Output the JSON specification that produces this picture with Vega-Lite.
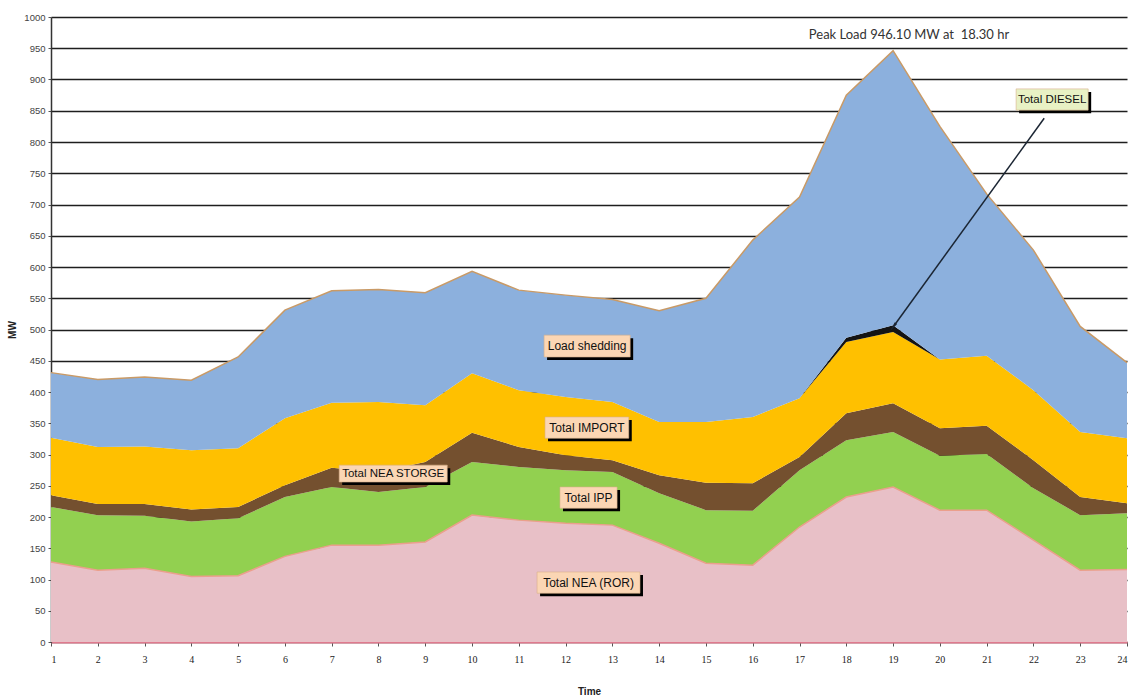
{
  "$schema": "https://vega.github.io/schema/vega-lite/v6.json",
  "width": 1076,
  "height": 625,
  "autosize": {"type": "none"},
  "padding": {"left": 51, "top": 17, "right": 3, "bottom": 55},
  "background": "#ffffff",
  "config": {
    "view": {"stroke": null},
    "axisY": {
      "tickCount": 21, "format": "d", "labelOverlap": false,
      "grid": true, "gridColor": "#1e1e1e", "gridWidth": 1.3,
      "domainColor": "#333333", "domainWidth": 1.5,
      "tickColor": "#555555", "tickSize": 3,
      "labelFont": "Liberation Sans", "labelFontSize": 9.5, "labelColor": "#444444", "labelPadding": 3,
      "titleFont": "Liberation Sans", "titleFontSize": 10, "titleFontWeight": "bold", "titleColor": "#222222", "titlePadding": 6
    },
    "axisX": {
      "grid": false, "zindex": 1, "labelOverlap": false,
      "domainColor": "#e07a8e", "domainWidth": 2,
      "tickColor": "#555555", "tickSize": 4,
      "labelFont": "Liberation Serif", "labelFontSize": 10, "labelColor": "#222222", "labelPadding": 8,
      "titleFont": "Liberation Sans", "titleFontSize": 10, "titleFontWeight": "bold", "titleColor": "#222222", "titlePadding": 22
    }
  },
  "datasets": {
    "gen": [
      {"hour":1,"source":"Total NEA (ROR)","mw":128},{"hour":1,"source":"Total IPP","mw":88},{"hour":1,"source":"Total NEA STORGE","mw":19},{"hour":1,"source":"Total IMPORT","mw":92},{"hour":1,"source":"Total DIESEL","mw":0},{"hour":1,"source":"Load shedding","mw":104},
      {"hour":2,"source":"Total NEA (ROR)","mw":115},{"hour":2,"source":"Total IPP","mw":88},{"hour":2,"source":"Total NEA STORGE","mw":18},{"hour":2,"source":"Total IMPORT","mw":91},{"hour":2,"source":"Total DIESEL","mw":0},{"hour":2,"source":"Load shedding","mw":108},
      {"hour":3,"source":"Total NEA (ROR)","mw":118},{"hour":3,"source":"Total IPP","mw":84},{"hour":3,"source":"Total NEA STORGE","mw":19},{"hour":3,"source":"Total IMPORT","mw":92},{"hour":3,"source":"Total DIESEL","mw":0},{"hour":3,"source":"Load shedding","mw":111},
      {"hour":4,"source":"Total NEA (ROR)","mw":105},{"hour":4,"source":"Total IPP","mw":88},{"hour":4,"source":"Total NEA STORGE","mw":19},{"hour":4,"source":"Total IMPORT","mw":95},{"hour":4,"source":"Total DIESEL","mw":0},{"hour":4,"source":"Load shedding","mw":112},
      {"hour":5,"source":"Total NEA (ROR)","mw":106},{"hour":5,"source":"Total IPP","mw":92},{"hour":5,"source":"Total NEA STORGE","mw":18},{"hour":5,"source":"Total IMPORT","mw":94},{"hour":5,"source":"Total DIESEL","mw":0},{"hour":5,"source":"Load shedding","mw":146},
      {"hour":6,"source":"Total NEA (ROR)","mw":137},{"hour":6,"source":"Total IPP","mw":95},{"hour":6,"source":"Total NEA STORGE","mw":19},{"hour":6,"source":"Total IMPORT","mw":107},{"hour":6,"source":"Total DIESEL","mw":0},{"hour":6,"source":"Load shedding","mw":173},
      {"hour":7,"source":"Total NEA (ROR)","mw":155},{"hour":7,"source":"Total IPP","mw":93},{"hour":7,"source":"Total NEA STORGE","mw":31},{"hour":7,"source":"Total IMPORT","mw":104},{"hour":7,"source":"Total DIESEL","mw":0},{"hour":7,"source":"Load shedding","mw":179},
      {"hour":8,"source":"Total NEA (ROR)","mw":155},{"hour":8,"source":"Total IPP","mw":85},{"hour":8,"source":"Total NEA STORGE","mw":32},{"hour":8,"source":"Total IMPORT","mw":112},{"hour":8,"source":"Total DIESEL","mw":0},{"hour":8,"source":"Load shedding","mw":180},
      {"hour":9,"source":"Total NEA (ROR)","mw":160},{"hour":9,"source":"Total IPP","mw":88},{"hour":9,"source":"Total NEA STORGE","mw":40},{"hour":9,"source":"Total IMPORT","mw":91},{"hour":9,"source":"Total DIESEL","mw":0},{"hour":9,"source":"Load shedding","mw":180},
      {"hour":10,"source":"Total NEA (ROR)","mw":203},{"hour":10,"source":"Total IPP","mw":85},{"hour":10,"source":"Total NEA STORGE","mw":47},{"hour":10,"source":"Total IMPORT","mw":95},{"hour":10,"source":"Total DIESEL","mw":0},{"hour":10,"source":"Load shedding","mw":163},
      {"hour":11,"source":"Total NEA (ROR)","mw":195},{"hour":11,"source":"Total IPP","mw":85},{"hour":11,"source":"Total NEA STORGE","mw":32},{"hour":11,"source":"Total IMPORT","mw":91},{"hour":11,"source":"Total DIESEL","mw":0},{"hour":11,"source":"Load shedding","mw":160},
      {"hour":12,"source":"Total NEA (ROR)","mw":190},{"hour":12,"source":"Total IPP","mw":85},{"hour":12,"source":"Total NEA STORGE","mw":24},{"hour":12,"source":"Total IMPORT","mw":93},{"hour":12,"source":"Total DIESEL","mw":0},{"hour":12,"source":"Load shedding","mw":163},
      {"hour":13,"source":"Total NEA (ROR)","mw":187},{"hour":13,"source":"Total IPP","mw":85},{"hour":13,"source":"Total NEA STORGE","mw":19},{"hour":13,"source":"Total IMPORT","mw":93},{"hour":13,"source":"Total DIESEL","mw":0},{"hour":13,"source":"Load shedding","mw":164},
      {"hour":14,"source":"Total NEA (ROR)","mw":158},{"hour":14,"source":"Total IPP","mw":80},{"hour":14,"source":"Total NEA STORGE","mw":29},{"hour":14,"source":"Total IMPORT","mw":85},{"hour":14,"source":"Total DIESEL","mw":0},{"hour":14,"source":"Load shedding","mw":178},
      {"hour":15,"source":"Total NEA (ROR)","mw":126},{"hour":15,"source":"Total IPP","mw":85},{"hour":15,"source":"Total NEA STORGE","mw":44},{"hour":15,"source":"Total IMPORT","mw":97},{"hour":15,"source":"Total DIESEL","mw":0},{"hour":15,"source":"Load shedding","mw":198},
      {"hour":16,"source":"Total NEA (ROR)","mw":123},{"hour":16,"source":"Total IPP","mw":87},{"hour":16,"source":"Total NEA STORGE","mw":44},{"hour":16,"source":"Total IMPORT","mw":106},{"hour":16,"source":"Total DIESEL","mw":0},{"hour":16,"source":"Load shedding","mw":283},
      {"hour":17,"source":"Total NEA (ROR)","mw":184},{"hour":17,"source":"Total IPP","mw":91},{"hour":17,"source":"Total NEA STORGE","mw":21},{"hour":17,"source":"Total IMPORT","mw":94},{"hour":17,"source":"Total DIESEL","mw":0},{"hour":17,"source":"Load shedding","mw":322},
      {"hour":18,"source":"Total NEA (ROR)","mw":232},{"hour":18,"source":"Total IPP","mw":91},{"hour":18,"source":"Total NEA STORGE","mw":43},{"hour":18,"source":"Total IMPORT","mw":114},{"hour":18,"source":"Total DIESEL","mw":7},{"hour":18,"source":"Load shedding","mw":388},
      {"hour":19,"source":"Total NEA (ROR)","mw":248},{"hour":19,"source":"Total IPP","mw":88},{"hour":19,"source":"Total NEA STORGE","mw":46},{"hour":19,"source":"Total IMPORT","mw":114},{"hour":19,"source":"Total DIESEL","mw":11},{"hour":19,"source":"Load shedding","mw":439.1},
      {"hour":20,"source":"Total NEA (ROR)","mw":211},{"hour":20,"source":"Total IPP","mw":87},{"hour":20,"source":"Total NEA STORGE","mw":44},{"hour":20,"source":"Total IMPORT","mw":110},{"hour":20,"source":"Total DIESEL","mw":0},{"hour":20,"source":"Load shedding","mw":373},
      {"hour":21,"source":"Total NEA (ROR)","mw":211},{"hour":21,"source":"Total IPP","mw":90},{"hour":21,"source":"Total NEA STORGE","mw":45},{"hour":21,"source":"Total IMPORT","mw":112},{"hour":21,"source":"Total DIESEL","mw":0},{"hour":21,"source":"Load shedding","mw":259},
      {"hour":22,"source":"Total NEA (ROR)","mw":163},{"hour":22,"source":"Total IPP","mw":83},{"hour":22,"source":"Total NEA STORGE","mw":45},{"hour":22,"source":"Total IMPORT","mw":112},{"hour":22,"source":"Total DIESEL","mw":0},{"hour":22,"source":"Load shedding","mw":224},
      {"hour":23,"source":"Total NEA (ROR)","mw":115},{"hour":23,"source":"Total IPP","mw":88},{"hour":23,"source":"Total NEA STORGE","mw":29},{"hour":23,"source":"Total IMPORT","mw":104},{"hour":23,"source":"Total DIESEL","mw":0},{"hour":23,"source":"Load shedding","mw":169},
      {"hour":24,"source":"Total NEA (ROR)","mw":116},{"hour":24,"source":"Total IPP","mw":90},{"hour":24,"source":"Total NEA STORGE","mw":16},{"hour":24,"source":"Total IMPORT","mw":104},{"hour":24,"source":"Total DIESEL","mw":0},{"hour":24,"source":"Load shedding","mw":121}
    ],
    "notes": [
      {"label":"Load shedding","x1":11.54,"x2":13.38,"y1":456,"y2":491},
      {"label":"Total IMPORT","x1":11.56,"x2":13.35,"y1":326,"y2":360},
      {"label":"Total NEA STORGE","x1":7.16,"x2":9.47,"y1":256,"y2":283},
      {"label":"Total IPP","x1":11.88,"x2":13.1,"y1":214,"y2":248},
      {"label":"Total NEA (ROR)","x1":11.39,"x2":13.59,"y1":78,"y2":112},
      {"label":"Total DIESEL","x1":21.63,"x2":23.17,"y1":851,"y2":885}
    ],
    "arrow": [
      {"x1":22.23,"y1":838,"x2":19.02,"y2":506}
    ],
    "peak": [
      {"hour":19.34,"mw":971,"text":"Peak Load 946.10 MW at\u00a0 18.30 hr"}
    ]
  },
  "layer": [
    {
      "data": {"name": "gen"},
      "transform": [
        {"calculate": "indexof(['Total NEA (ROR)','Total IPP','Total NEA STORGE','Total IMPORT','Total DIESEL','Load shedding'], datum.source)", "as": "idx"}
      ],
      "mark": {"type": "area", "interpolate": "linear"},
      "encoding": {
        "x": {
          "field": "hour", "type": "quantitative",
          "scale": {"domain": [1, 24], "nice": false, "zero": false},
          "axis": {"values": [1,2,3,4,5,6,7,8,9,10,11,12,13,14,15,16,17,18,19,20,21,22,23,24], "title": "Time"}
        },
        "y": {
          "field": "mw", "type": "quantitative", "stack": "zero",
          "scale": {"domain": [0, 1000], "nice": false},
          "axis": {"values": [0,50,100,150,200,250,300,350,400,450,500,550,600,650,700,750,800,850,900,950,1000], "title": "MW"}
        },
        "color": {
          "field": "source", "type": "nominal",
          "scale": {
            "domain": ["Total NEA (ROR)","Total IPP","Total NEA STORGE","Total IMPORT","Total DIESEL","Load shedding"],
            "range": ["#e8c0c7","#92d050","#74502f","#ffc000","#141414","#8cb0dd"]
          },
          "legend": null
        },
        "order": {"field": "idx", "type": "quantitative"}
      }
    },
    {
      "data": {"name": "gen"},
      "transform": [{"filter": "datum.source === 'Total NEA (ROR)'"}],
      "mark": {"type": "line", "color": "#eb9f8c", "strokeWidth": 1.5},
      "encoding": {
        "x": {"field": "hour", "type": "quantitative", "axis": {"values": [1,2,3,4,5,6,7,8,9,10,11,12,13,14,15,16,17,18,19,20,21,22,23,24], "title": "Time"}},
        "y": {"field": "mw", "type": "quantitative", "axis": {"values": [0,50,100,150,200,250,300,350,400,450,500,550,600,650,700,750,800,850,900,950,1000], "title": "MW"}}
      }
    },
    {
      "data": {"name": "gen"},
      "transform": [{"aggregate": [{"op": "sum", "field": "mw", "as": "total"}], "groupby": ["hour"]}],
      "mark": {"type": "line", "color": "#c99a66", "strokeWidth": 1.5},
      "encoding": {
        "x": {"field": "hour", "type": "quantitative", "axis": {"values": [1,2,3,4,5,6,7,8,9,10,11,12,13,14,15,16,17,18,19,20,21,22,23,24], "title": "Time"}},
        "y": {"field": "total", "type": "quantitative", "axis": {"values": [0,50,100,150,200,250,300,350,400,450,500,550,600,650,700,750,800,850,900,950,1000], "title": "MW"}}
      }
    },
    {
      "data": {"name": "arrow"},
      "mark": {"type": "rule", "color": "#1b2533", "strokeWidth": 1.5},
      "encoding": {
        "x": {"field": "x1", "type": "quantitative", "axis": {"values": [1,2,3,4,5,6,7,8,9,10,11,12,13,14,15,16,17,18,19,20,21,22,23,24], "title": "Time"}},
        "y": {"field": "y1", "type": "quantitative", "axis": {"values": [0,50,100,150,200,250,300,350,400,450,500,550,600,650,700,750,800,850,900,950,1000], "title": "MW"}},
        "x2": {"field": "x2"},
        "y2": {"field": "y2"}
      }
    },
    {
      "data": {"name": "arrow"},
      "mark": {"type": "point", "shape": "wedge", "filled": true, "color": "#1b2533", "size": 130, "angle": 216, "opacity": 1},
      "encoding": {
        "x": {"field": "x2", "type": "quantitative", "axis": {"values": [1,2,3,4,5,6,7,8,9,10,11,12,13,14,15,16,17,18,19,20,21,22,23,24], "title": "Time"}},
        "y": {"field": "y2", "type": "quantitative", "axis": {"values": [0,50,100,150,200,250,300,350,400,450,500,550,600,650,700,750,800,850,900,950,1000], "title": "MW"}}
      }
    },
    {
      "data": {"name": "notes"},
      "mark": {"type": "rect", "color": "#000000", "xOffset": 3, "x2Offset": 3, "yOffset": 3, "y2Offset": 3},
      "encoding": {
        "x": {"field": "x1", "type": "quantitative", "axis": {"values": [1,2,3,4,5,6,7,8,9,10,11,12,13,14,15,16,17,18,19,20,21,22,23,24], "title": "Time"}},
        "x2": {"field": "x2"},
        "y": {"field": "y1", "type": "quantitative", "axis": {"values": [0,50,100,150,200,250,300,350,400,450,500,550,600,650,700,750,800,850,900,950,1000], "title": "MW"}},
        "y2": {"field": "y2"}
      }
    },
    {
      "data": {"name": "notes"},
      "mark": {"type": "rect", "stroke": "#d8b08a", "strokeWidth": 0.6},
      "encoding": {
        "x": {"field": "x1", "type": "quantitative", "axis": {"values": [1,2,3,4,5,6,7,8,9,10,11,12,13,14,15,16,17,18,19,20,21,22,23,24], "title": "Time"}},
        "x2": {"field": "x2"},
        "y": {"field": "y1", "type": "quantitative", "axis": {"values": [0,50,100,150,200,250,300,350,400,450,500,550,600,650,700,750,800,850,900,950,1000], "title": "MW"}},
        "y2": {"field": "y2"},
        "fill": {"condition": {"test": "datum.label === 'Total DIESEL'", "value": "#e8f1c4"}, "value": "#fbd6b4"}
      }
    },
    {
      "data": {"name": "notes"},
      "transform": [
        {"calculate": "(datum.x1 + datum.x2) / 2", "as": "xm"},
        {"calculate": "(datum.y1 + datum.y2) / 2", "as": "ym"}
      ],
      "mark": {"type": "text", "font": "Liberation Sans", "fontSize": 12, "color": "#111111", "align": "center", "baseline": "middle"},
      "encoding": {
        "x": {"field": "xm", "type": "quantitative", "axis": {"values": [1,2,3,4,5,6,7,8,9,10,11,12,13,14,15,16,17,18,19,20,21,22,23,24], "title": "Time"}},
        "y": {"field": "ym", "type": "quantitative", "axis": {"values": [0,50,100,150,200,250,300,350,400,450,500,550,600,650,700,750,800,850,900,950,1000], "title": "MW"}},
        "text": {"field": "label"},
        "size": {"condition": {"test": "datum.label === 'Total DIESEL' || datum.label === 'Total NEA STORGE'", "value": 11.5}, "value": 12}
      }
    },
    {
      "data": {"name": "peak"},
      "mark": {"type": "text", "font": "Lato", "fontSize": 13, "color": "#333333", "align": "center", "baseline": "middle"},
      "encoding": {
        "x": {"field": "hour", "type": "quantitative", "axis": {"values": [1,2,3,4,5,6,7,8,9,10,11,12,13,14,15,16,17,18,19,20,21,22,23,24], "title": "Time"}},
        "y": {"field": "mw", "type": "quantitative", "axis": {"values": [0,50,100,150,200,250,300,350,400,450,500,550,600,650,700,750,800,850,900,950,1000], "title": "MW"}},
        "text": {"field": "text"}
      }
    }
  ]
}
